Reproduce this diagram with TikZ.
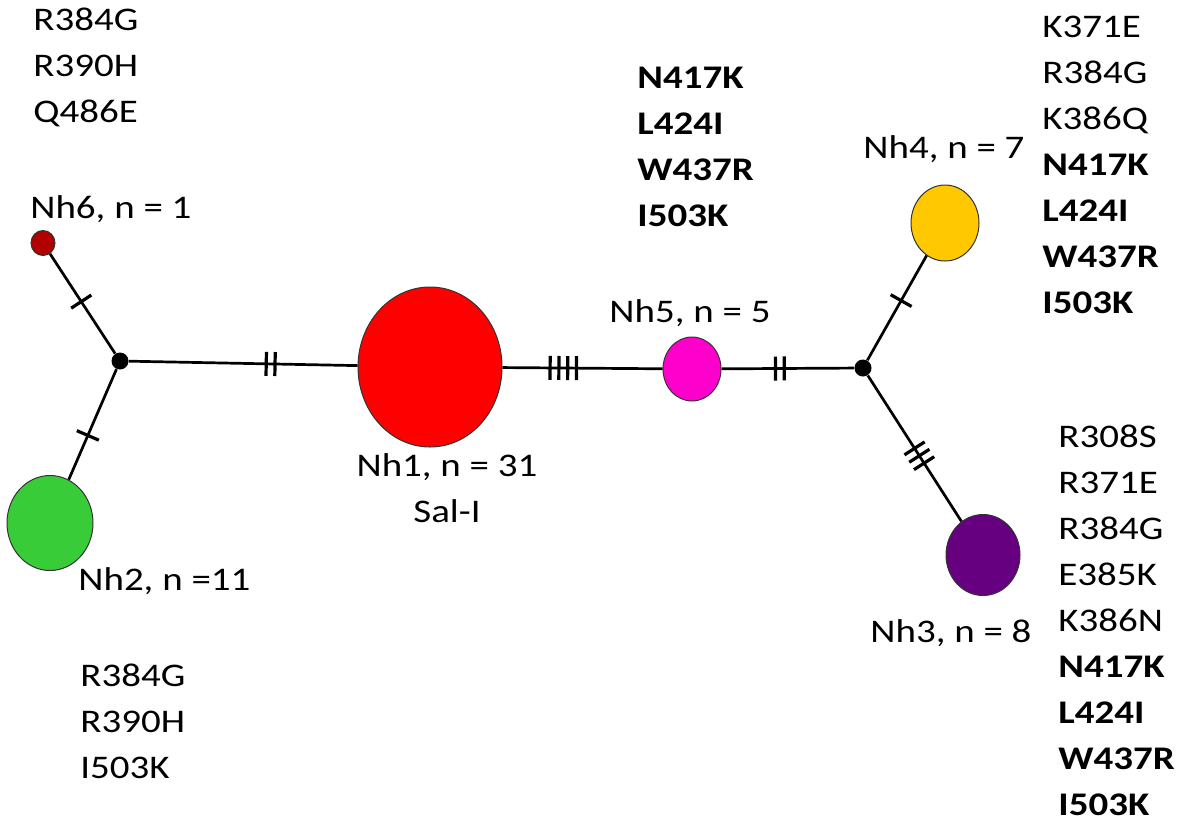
\documentclass[tikz,border=0pt]{standalone}
\usepackage{fontspec}
\setmainfont{Carlito}[FakeStretch=1.18]
\usepackage{tikz}
\usetikzlibrary{shapes.geometric,decorations.markings}

\definecolor{hapred}{RGB}{255,0,0}
\definecolor{hapdarkred}{RGB}{176,0,0}
\definecolor{hapgreen}{RGB}{56,204,56}
\definecolor{hapmagenta}{RGB}{255,0,204}
\definecolor{hapgold}{RGB}{255,200,0}
\definecolor{happurple}{RGB}{102,0,128}

\tikzset{
	hap/.style={ellipse, draw=black!80, line width=0.5pt, inner sep=0pt},
	junction/.style={circle, fill=black, inner sep=0pt, minimum size=8.5pt},
	link/.style={line width=1.35pt},
	tickln/.style={line width=1.6pt},
	mutations/.style 2 args={postaction={decorate, decoration={markings,
		mark=at position #1 with {\foreach \k in {1,...,#2} {\draw[tickln] ({(\k-(#2+1)/2)*4.4pt},-6pt) -- ({(\k-(#2+1)/2)*4.4pt},6pt);}}}}},
	lbl/.style={inner sep=0pt, font=\fontsize{16.5}{23}\selectfont},
}

\begin{document}
\begin{tikzpicture}[x=0.5pt, y=-0.5pt]
		%%%%% START %%%%%
		\useasboundingbox (0, 0) rectangle (1181, 831);
		
		% haplotypes
		\node[hap, fill=hapred, minimum width=72pt, minimum height=80pt] (nh1) at (430, 367) {};
		\node[hap, fill=hapgreen, minimum width=43pt, minimum height=47.5pt] (nh2) at (50, 523) {};
		\node[hap, fill=happurple, minimum width=37pt, minimum height=40.5pt] (nh3) at (983, 555) {};
		\node[hap, fill=hapgold, minimum width=34pt, minimum height=38pt] (nh4) at (945, 223) {};
		\node[hap, fill=hapmagenta, minimum width=29pt, minimum height=32pt] (nh5) at (692, 369) {};
		\node[hap, fill=hapdarkred, minimum width=12pt, minimum height=12.5pt] (nh6) at (43, 243) {};
		
		% median vectors
		\node[junction] (jl) at (120, 361) {};
		\node[junction] (jr) at (863, 368) {};
		
		% links with mutation steps
		\draw[link, mutations={0.48}{1}] (nh6) -- (jl);
		\draw[link, mutations={0.6}{1}] (jl) -- (nh2);
		\draw[link, mutations={0.62}{2}] (jl) -- (nh1);
		\draw[link, mutations={0.38}{4}] (nh1) -- (nh5);
		\draw[link, mutations={0.44}{2}] (nh5) -- (jr);
		\draw[link, mutations={0.57}{1}] (jr) -- (nh4);
		\draw[link, mutations={0.55}{3}] (jr) -- (nh3);
		
		% haplotype labels
		\node[lbl, anchor=base west] (nh6lbl) at (30, 218) {Nh6, n = 1};
		\node[lbl, anchor=base west] (nh2lbl) at (78, 590) {Nh2, n =11};
		\node[lbl, anchor=base, align=center] (nh1lbl) at (447, 522) {Nh1, n = 31\\Sal-I};
		\node[lbl, anchor=base] (nh5lbl) at (690, 322) {Nh5, n = 5};
		\node[lbl, anchor=base west] (nh4lbl) at (863, 158) {Nh4, n = 7};
		\node[lbl, anchor=base west] (nh3lbl) at (870, 642) {Nh3, n = 8};
		
		% substitutions (anchored at the last line)
		\node[lbl, anchor=base west, align=left] (subtl) at (33, 122) {R384G\\R390H\\Q486E};
		\node[lbl, anchor=base west, align=left] (subbl) at (80, 778) {R384G\\R390H\\I503K};
		\node[lbl, anchor=base west, align=left] (subm) at (637, 226) {\textbf{N417K}\\\textbf{L424I}\\\textbf{W437R}\\\textbf{I503K}};
		\node[lbl, anchor=base west, align=left] (subtr) at (1042, 313) {K371E\\R384G\\K386Q\\\textbf{N417K}\\\textbf{L424I}\\\textbf{W437R}\\\textbf{I503K}};
		\node[lbl, anchor=base west, align=left] (subbr) at (1058, 815) {R308S\\R371E\\R384G\\E385K\\K386N\\\textbf{N417K}\\\textbf{L424I}\\\textbf{W437R}\\\textbf{I503K}};
		
		%%%%% END %%%%%
	\end{tikzpicture}
\end{document}
